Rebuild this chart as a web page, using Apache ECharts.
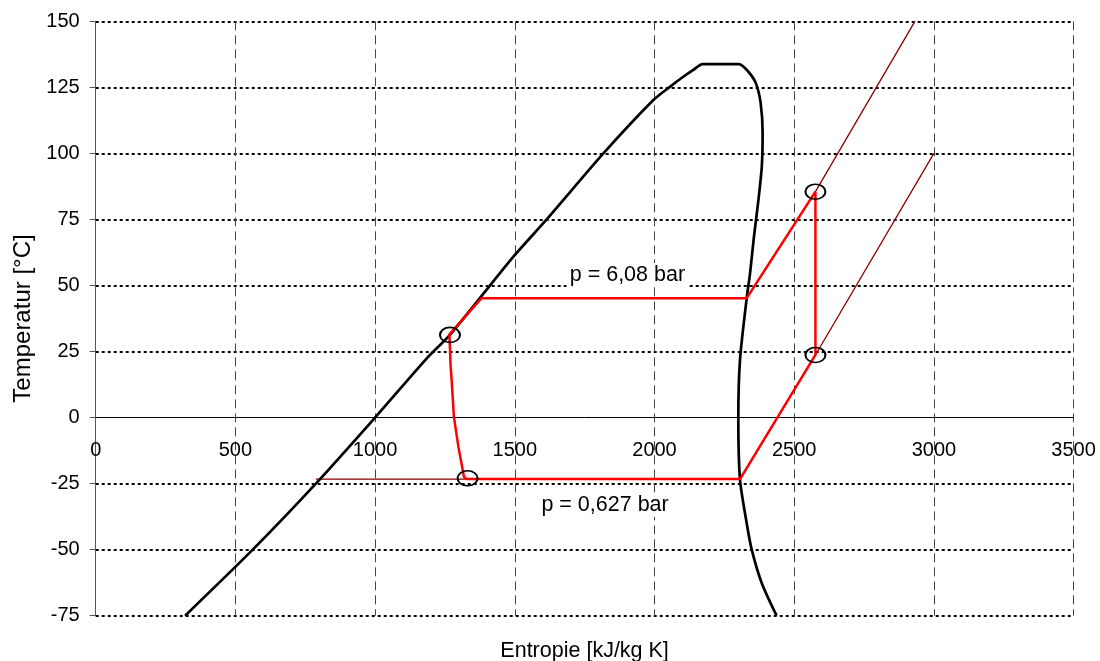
<!DOCTYPE html>
<html>
<head>
<meta charset="utf-8">
<script src="https://cdn.jsdelivr.net/npm/echarts@6/dist/echarts.min.js"></script>
<style>
html,body{margin:0;padding:0;background:#fff;}
#chart{width:1100px;height:661px;}
</style>
</head>
<body>
<div id="chart"></div>
<script>
// Saturation curve (liquid side -> critical region -> vapour side)
const satS = [320, 562, 788, 1000, 1185, 1268, 1375, 1495, 1614, 1817, 1996, 2055, 2103, 2139, 2172, 2303, 2336, 2363, 2380, 2387, 2384, 2372, 2356, 2342, 2330, 2306, 2300, 2306, 2330, 2348, 2384, 2437];
const satT = [-75, -50, -25, 0, 22.4, 31.3, 45.2, 60.9, 75, 100, 120.2, 125.2, 129, 131.6, 133.8, 133.8, 130.9, 126.5, 119, 107.6, 95, 82.4, 68.5, 54.6, 45.2, 21.8, 0, -23.5, -40, -50, -62.7, -75];

// Isobars
const lowIsoS = [788, 2306, 2576, 3000];
const lowIsoT = [-23.3, -23.3, 23.7, 100];
const highIsoS = [1381, 2330, 2576, 2932];
const highIsoT = [45.2, 45.2, 85.5, 150];

// Refrigeration cycle
const cycleS = [2576, 2330, 1381, 1266, 1270, 1274, 1282, 1298, 1318, 1328, 2306, 2576, 2576];
const cycleT = [85.5, 45.2, 45.2, 31.5, 20, 14.2, 0.3, -11, -22.4, -23.3, -23.3, 23.7, 85.5];

// State points
const pointS = [1268, 1331, 2576, 2576];
const pointT = [31.3, -23, 85.5, 23.7];

// Annotations
const noteText = ['p = 6,08 bar', 'p = 0,627 bar'];
const noteS = [1903, 1823];
const noteT = [54, -33.1];

// Axes
const xMin = 0, xMax = 3500, xStep = 500;
const yMin = -75, yMax = 150, yStep = 25;
const xTitle = 'Entropie [kJ/kg K]';
const yTitle = 'Temperatur [°C]';

const zip = (a, b) => a.map((v, i) => [v, b[i]]);
const FONT = "'Liberation Sans', Arial, sans-serif";

const GRID_TOP = 21.3, GRID_BOTTOM = 45.3, H = 661;
const plotH = H - GRID_TOP - GRID_BOTTOM;
// shift x axis (line + labels) up to T = 0
const xAxisOffset = -plotH * (0 - yMin) / (yMax - yMin);

// hide dotted split line at T = 0 (solid x axis there)
const ySplitColors = [];
for (let v = yMin; v <= yMax; v += yStep) ySplitColors.push(v === 0 ? 'rgba(0,0,0,0)' : '#000');

const chart = echarts.init(document.getElementById('chart'), null, {renderer: 'canvas'});
chart.setOption({
  animation: false,
  backgroundColor: '#fff',
  grid: {left: 95.7, right: 26.4, top: GRID_TOP, bottom: GRID_BOTTOM, containLabel: false},
  xAxis: {
    type: 'value', min: xMin, max: xMax, interval: xStep, position: 'bottom', offset: xAxisOffset,
    axisLine: {show: true, onZero: false, lineStyle: {color: '#000', width: 1}},
    axisTick: {show: false},
    axisLabel: {color: '#000', fontSize: 20, fontFamily: FONT, margin: 23, formatter: v => String(v)},
    splitLine: {show: true, lineStyle: {color: '#444', width: 1, type: [9, 5]}}
  },
  yAxis: {
    type: 'value', min: yMin, max: yMax, interval: yStep,
    name: yTitle, nameLocation: 'middle', nameGap: 60, nameRotate: 90,
    nameTextStyle: {color: '#000', fontSize: 24, fontFamily: FONT},
    axisLine: {show: true, onZero: false, lineStyle: {color: '#555', width: 1}},
    axisTick: {show: true, length: 6, lineStyle: {color: '#555'}},
    axisLabel: {color: '#000', fontSize: 20, fontFamily: FONT, margin: 16, formatter: v => String(v)},
    splitLine: {show: true, lineStyle: {color: ySplitColors, width: 2, type: [3, 3]}}
  },
  graphic: [{
    type: 'text', x: 584.6, y: 651,
    style: {text: xTitle, font: "21.5px 'Liberation Sans', Arial, sans-serif", fill: '#000', textAlign: 'center', textVerticalAlign: 'middle'}
  }],
  series: [
    {type: 'line', data: zip(lowIsoS, lowIsoT), symbol: 'none', lineStyle: {color: '#8B0000', width: 1.3}, z: 2},
    {type: 'line', data: zip(highIsoS, highIsoT), symbol: 'none', lineStyle: {color: '#8B0000', width: 1.3}, z: 2},
    {type: 'line', data: zip(satS, satT), symbol: 'none', smooth: 0.25, lineStyle: {color: '#000', width: 2.7}, z: 3},
    {type: 'line', data: zip(cycleS, cycleT), symbol: 'none', lineStyle: {color: '#ff0000', width: 2.5}, z: 4},
    {type: 'scatter', data: zip(pointS, pointT), symbol: 'circle', symbolSize: [20, 15],
      itemStyle: {color: 'rgba(0,0,0,0)', borderColor: '#000', borderWidth: 1.8, opacity: 1}, z: 5},
    {type: 'scatter', data: noteS.map((s, i) => ({value: [s, noteT[i]], name: noteText[i]})), symbolSize: 0, z: 6,
      itemStyle: {color: '#fff', opacity: 1},
      label: {show: true, position: 'inside', formatter: p => p.name, color: '#000', fontSize: 21.5, fontFamily: FONT,
        textBorderWidth: 0, textShadowBlur: 0, backgroundColor: '#fff', padding: [1, 3]}}
  ]
});
</script>
</body>
</html>
